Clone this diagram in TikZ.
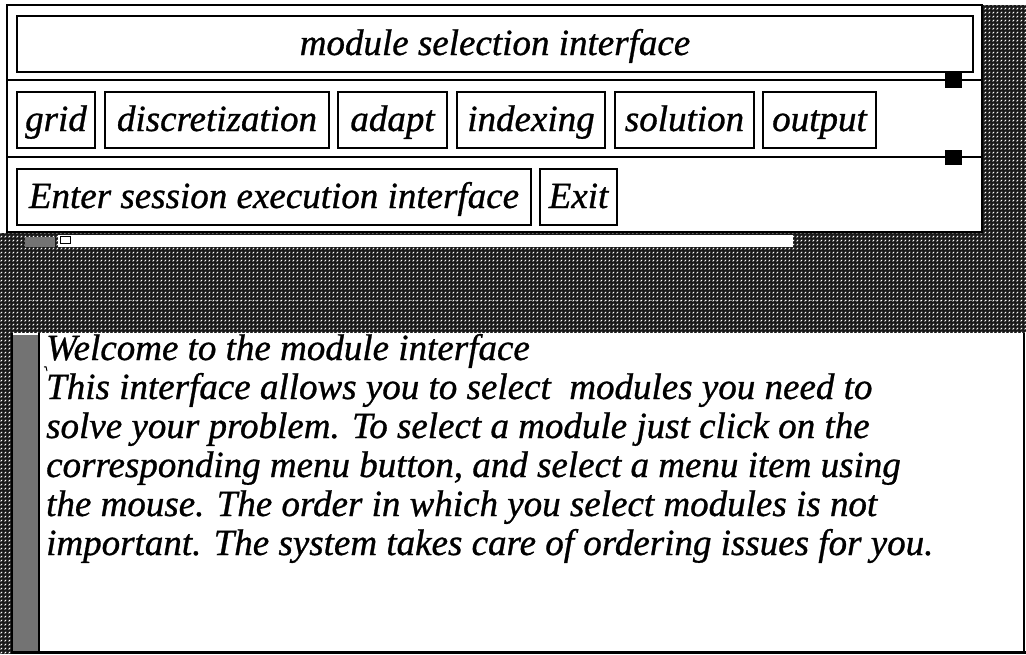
\documentclass[tikz,border=0pt]{standalone}
\usepackage{fontspec}
\setmainfont{Liberation Serif}
\newfontfamily\uifamily{Liberation Serif}[FakeBold=0.8]
\usetikzlibrary{patterns}
\pgfdeclarepatternformonly{deskdash}{\pgfpoint{-0.5pt}{-0.5pt}}{\pgfpoint{4.5pt}{4.5pt}}{\pgfpoint{4pt}{4pt}}{%
  \pgfsetlinewidth{0.8pt}%
  \pgfpathmoveto{\pgfpoint{0.6pt}{0.6pt}}%
  \pgfpathlineto{\pgfpoint{2.2pt}{2.2pt}}%
  \pgfusepath{stroke}%
}
\newcommand\uitext{\uifamily\fontsize{37}{39}\selectfont\itshape}
\tikzset{
  hatch/.style={fill=black!90, postaction={pattern=deskdash, pattern color=white}},
  btn/.style={draw, line width=1.8pt, inner sep=0pt, font=\uitext, text height=26pt, text depth=4pt, minimum height=56pt},
  bodyline/.style={anchor=base west, inner sep=0pt, font=\uitext},
  sash/.style={fill=black},
}
\begin{document}
\begin{tikzpicture}[x=1pt,y=-1pt]
\useasboundingbox (0,0) rectangle (1026,654);
\fill[white] (0,0) rectangle (1026,654);
% hatched desktop background
\path[hatch] (983,5) rectangle (1026,333);
\path[hatch] (0,233) rectangle (1026,333);
\path[hatch] (0,333) rectangle (12,654);
\draw[white, opacity=0.45, dash pattern=on 2pt off 3pt, line width=0.8pt] (30,300) -- (1010,300);
% strip below the window
\fill[white] (58,235) rectangle (793,247);
\fill[black!55] (25,237) rectangle (55,247);
\draw[line width=1pt, fill=white] (60,236) rectangle (70,243);
% top window
\draw[line width=2.4pt, fill=white] (7,5) rectangle (982,232);
\node[btn, minimum width=956pt] (title) at (495,44) {module selection interface};
\draw[line width=1.8pt] (7,80) -- (982,80);
\draw[line width=1.8pt] (7,157) -- (982,157);
\fill[sash] (945,73) rectangle (962,88);
\fill[sash] (945,150) rectangle (962,165);
% module buttons
\node[btn, minimum width=78pt]  (grid) at (56,120) {grid};
\node[btn, minimum width=224pt] (disc) at (217,120) {discretization};
\node[btn, minimum width=109pt] (adapt) at (392.5,120) {adapt};
\node[btn, minimum width=148pt] (index) at (531,120) {indexing};
\node[btn, minimum width=139pt] (sol) at (684.5,120) {solution};
\node[btn, minimum width=113pt] (out) at (819.5,120) {output};
% action buttons
\node[btn, minimum width=514pt] (enter) at (274,197) {Enter session execution interface};
\node[btn, minimum width=77pt]  (exit) at (578.5,197) {Exit};
% bottom text panel
\fill[black!55] (12,335) rectangle (38,652);
\draw[line width=1.6pt] (12,333) -- (12,654);
\draw[line width=2pt] (39,333) -- (39,654);
\fill[white] (40,333) rectangle (1024,651);
\draw[line width=1.5pt] (1024,333) -- (1024,652);
\draw[line width=3pt] (12,652) -- (1026,652);
\draw[line width=1pt] (44,367) .. controls (46,366) .. (47,371);
\node[bodyline] (l1) at (46,360) {Welcome to the module interface};
\node[bodyline] (l2) at (46,399) {This interface allows you to select\ \ modules you need to};
\node[bodyline] (l3) at (46,438) {solve your problem. To select a module just click on the};
\node[bodyline] (l4) at (46,477) {corresponding menu button, and select a menu item using};
\node[bodyline] (l5) at (46,516) {the mouse. The order in which you select modules is not};
\node[bodyline] (l6) at (46,555) {important. The system takes care of ordering issues for you.};
\end{tikzpicture}
\end{document}
